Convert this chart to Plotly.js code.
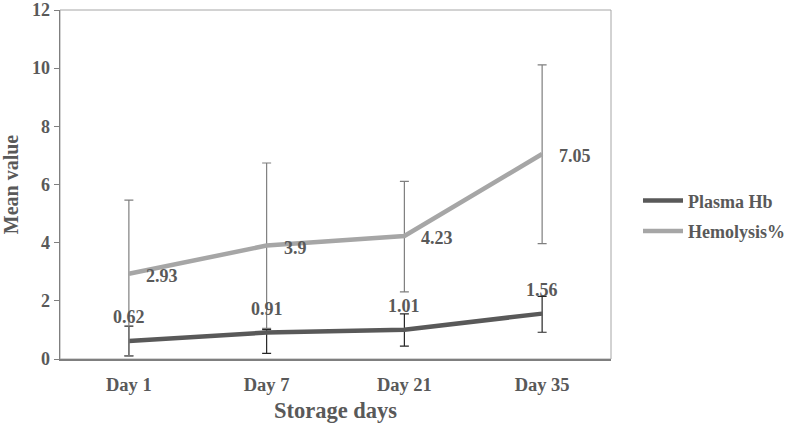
<!DOCTYPE html>
<html><head><meta charset="utf-8">
<script src="https://cdn.plot.ly/plotly-3.0.1.min.js"></script>
<style>html,body{margin:0;padding:0;background:#fff}#c{width:788px;height:423px}</style>
</head><body><div id="c"></div>
<script>
var categories = ['Day 1','Day 7','Day 21','Day 35'];
var plasmaHb = [0.62, 0.91, 1.01, 1.56];
var plasmaErrPlus = [0.51, 0.10, 0.54, 0.59];
var plasmaErrMinus = [0.51, 0.72, 0.57, 0.64];
var hemolysis = [2.93, 3.9, 4.23, 7.05];
var hemoErrPlus = [2.53, 2.84, 1.88, 3.06];
var hemoErrMinus = [2.82, 2.85, 1.92, 3.08];
var plasmaLabels = ['0.62','0.91','1.01','1.56'];
var hemoLabels = ['2.93','3.9','4.23','7.05'];

var F = 'Liberation Serif, Times New Roman, serif';
var C = '#595959';
function bold(size){ return {family: F, size: size, color: C, weight: 'bold'}; }

var traces = [
  {x: categories, y: plasmaHb, name: 'Plasma Hb', type: 'scatter', mode: 'lines',
   legendgroup: 'a',
   line: {color: '#595959', width: 4.5},
   error_y: {type: 'data', symmetric: false, array: plasmaErrPlus, arrayminus: plasmaErrMinus,
             color: '#262626', thickness: 1.2, width: 4.5}},
  {x: categories, y: hemolysis, name: 'Hemolysis%', type: 'scatter', mode: 'lines',
   legendgroup: 'b',
   line: {color: '#a6a6a6', width: 4.5},
   error_y: {type: 'data', symmetric: false, array: hemoErrPlus, arrayminus: hemoErrMinus,
             color: '#7f7f7f', thickness: 1.2, width: 4.5}}
];

var annotations = [];
categories.forEach(function(c, i){
  annotations.push({x: c, y: plasmaHb[i], xref: 'x', yref: 'y', text: plasmaLabels[i],
    showarrow: false, xanchor: 'center', yanchor: 'middle', yshift: 24, font: bold(18)});
  annotations.push({x: c, y: hemolysis[i], xref: 'x', yref: 'y', text: hemoLabels[i],
    showarrow: false, xanchor: 'left', yanchor: 'middle', xshift: 15, yshift: -2, font: bold(18)});
});

var layout = {
  width: 788, height: 423,
  margin: {l: 60, r: 177, t: 10, b: 64, autoexpand: false},
  paper_bgcolor: '#fff', plot_bgcolor: '#fff',
  font: {family: F, color: C, size: 15},
  showlegend: true,
  legend: {x: 1.049, xanchor: 'left', y: 0.41, yanchor: 'middle',
           font: bold(18), itemwidth: 40, tracegroupgap: 4},
  xaxis: {type: 'category', range: [-0.5, 3.5], showline: true, linecolor: '#7f7f7f', linewidth: 1.5,
          ticks: '', showgrid: false, zeroline: false, ticklabelstandoff: 8,
          tickfont: bold(18.5),
          title: {text: 'Storage days', font: bold(22.5), standoff: 12}},
  yaxis: {range: [0, 12], dtick: 2, showline: true, linecolor: '#7f7f7f', linewidth: 1.5,
          ticks: 'outside', ticklen: 5, tickcolor: '#7f7f7f', showgrid: false, zeroline: false,
          ticklabeloverflow: 'allow',
          tickfont: bold(18),
          title: {text: 'Mean value', font: bold(20), standoff: 10}},
  annotations: annotations,
  shapes: [{type: 'rect', xref: 'paper', yref: 'paper', x0: 0, x1: 1, y0: 0, y1: 1,
            line: {color: '#a6a6a6', width: 1}, layer: 'below'}]
};
Plotly.newPlot('c', traces, layout, {displayModeBar: false, staticPlot: true});
</script></body></html>
